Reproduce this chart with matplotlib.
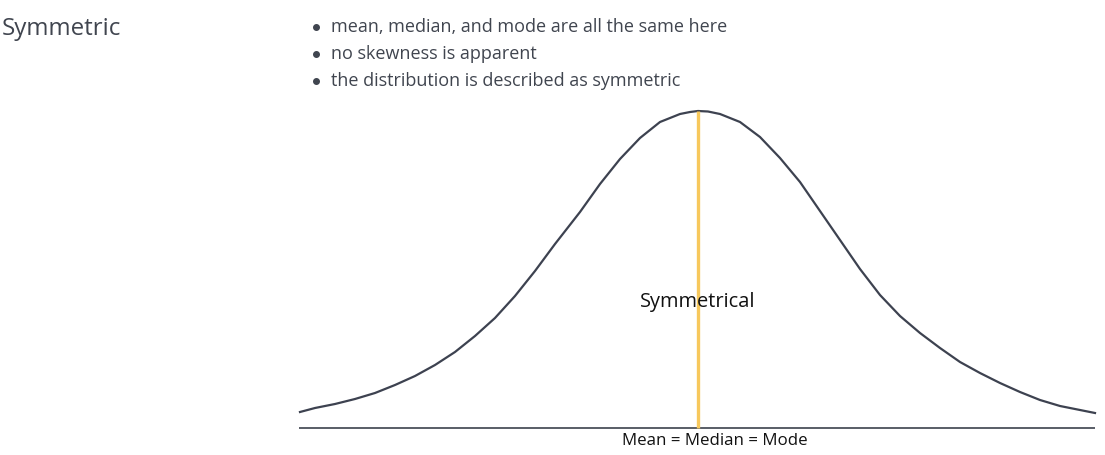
import matplotlib
matplotlib.use('Agg')
import matplotlib.pyplot as plt

plt.rcParams['font.family'] = ['Open Sans', 'DejaVu Sans']

# curve: horizontal position and height above the baseline
curve_x = [300, 315, 335, 355, 375, 395, 415, 435, 455, 475, 495, 515, 535, 555,
           580, 600, 620, 640, 660, 680, 690, 698, 708, 720, 740, 760, 780, 800,
           820, 840, 860, 880, 900, 920, 940, 960, 980, 1000, 1020, 1040, 1060,
           1080, 1095]
curve_h = [16, 20, 24, 29, 35, 43, 52, 63, 76, 92, 110, 132, 157, 184,
           216, 244, 269, 290, 306, 314, 316, 317, 316.5, 314, 306, 291, 270, 246,
           217, 188, 159, 133, 112, 95, 80, 66, 55, 45, 36, 28, 22,
           18, 15]

center_x = 698
peak_h = 317
base_x = [299, 1095]

title = 'Symmetric'
bullets = ['mean, median, and mode are all the same here',
           'no skewness is apparent',
           'the distribution is described as symmetric']
curve_label = 'Symmetrical'
axis_label = 'Mean = Median = Mode'

fig = plt.figure(figsize=(11.05, 4.55), dpi=100)
ax = fig.add_axes([0, 0, 1, 1])
ax.set_xlim(0, 1105)
ax.set_ylim(-27, 428)
ax.axis('off')

# baseline, curve and centre line
ax.plot(base_x, [0, 0], color='#4b505a', lw=1.3, solid_capstyle='butt')
ax.plot(curve_x, curve_h, color='#3d4250', lw=1.6, solid_joinstyle='round')
ax.plot([center_x, center_x], [0, peak_h], color='#f7c85c', lw=2.4, solid_capstyle='butt')

ax.text(center_x, 428 - 307, curve_label, ha='center', va='baseline',
        fontsize=14.4, color='#111111')
ax.text(center_x + 17, 428 - 445, axis_label, ha='center', va='baseline',
        fontsize=12.2, color='#111111')

# heading and bullet list
ax.text(2, 428 - 35, title, ha='left', va='baseline', fontsize=17.4, color='#40454f')
for i, b in enumerate(bullets):
    y = 428 - (32 + 27 * i)
    ax.plot([316], [y + 5], marker='o', ms=4, color='#40454f')
    ax.text(331, y, b, ha='left', va='baseline', fontsize=13, color='#40454f')

fig.savefig('out.png', dpi=100)
